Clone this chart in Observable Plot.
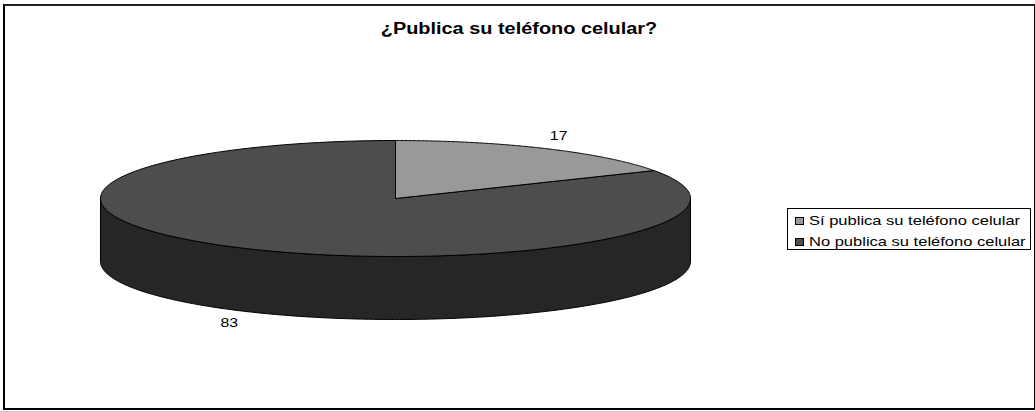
<!DOCTYPE html>
<html lang="es">
<head>
<meta charset="utf-8">
<script src="https://cdn.jsdelivr.net/npm/d3@7"></script>
<script src="https://cdn.jsdelivr.net/npm/@observablehq/plot@0.6"></script>
<style>
  html,body{margin:0;padding:0;background:#fff;overflow:hidden}
  #chart{position:relative;width:1035px;height:412px;font-family:"Liberation Sans",Arial,sans-serif;color:#000;overflow:hidden}
  #chart svg{position:absolute;left:0;top:0;display:block;background:transparent}
  #border{position:absolute;left:3px;top:4px;width:1029px;height:402px;border:2px solid #000;border-top-color:#222;border-right-width:1px}
  #strip{position:absolute;left:0;top:411px;width:1035px;height:1px;background:#c8c8c8}
  #title{position:absolute;left:519px;top:21px;white-space:nowrap;font-weight:bold;font-size:15.8px;line-height:16px;transform:translateX(-50%) scaleX(1.26)}
  #legend{position:absolute;left:787px;top:208px;width:242px;height:40px;border:1px solid #000;font-size:13px;background:#fff}
  .row{position:absolute;left:7px;height:16px;line-height:16px;white-space:nowrap}
  .sw{position:absolute;left:0;top:4px;box-sizing:border-box;width:9px;height:8px;border:1px solid #000}
  .tx{position:absolute;left:14px;top:0;transform:scaleX(1.27);transform-origin:left center}
</style>
</head>
<body>
<div id="chart">
  <div id="border"></div>
  <div id="strip"></div>
  <div id="title"></div>
  <div id="legend"></div>
</div>
<script>
const titleText = "¿Publica su teléfono celular?";
const categories = ["Sí publica su teléfono celular", "No publica su teléfono celular"];
const values = [17, 83];
const colors = ["#999999", "#4d4d4d"];
const wallColor = "#262626";

const cx = 395, cy = 198, rx = 295, ry = 58, depth = 63;
const wall = depth / ry;

const pie = d3.pie().sort(null).value(d => d)(values);
const rim = a => ({x: Math.sin(a), y: Math.cos(a)});
const arc = (a0, a1) => d3.range(0, 241).map(i => rim(a0 + (a1 - a0) * i / 240));

const slices = pie.map((s, i) => {
  const pts = arc(s.startAngle, s.endAngle);
  return {color: colors[i], pts: [{x: 0, y: 0}, ...pts, {x: 0, y: 0}]};
});

const front = arc(Math.PI / 2, Math.PI * 1.5);
const wallPts = [...front, ...front.slice().reverse().map(p => ({x: p.x, y: p.y - wall}))];
wallPts.push(wallPts[0]);

const labelOffsets = [[13, -12.5], [-16, 75]];
const labels = pie.map((s, i) => {
  const p = rim((s.startAngle + s.endAngle) / 2);
  return {...p, text: String(values[i]), dx: labelOffsets[i][0], dy: labelOffsets[i][1]};
});

const plot = Plot.plot({
  width: 1035, height: 412,
  margin: 0,
  x: {type: "linear", domain: [-1, 1], range: [cx - rx, cx + rx], axis: null},
  y: {type: "linear", domain: [1, -1], range: [cy - ry, cy + ry], axis: null},
  marks: [
    Plot.line(wallPts, {x: "x", y: "y", fill: wallColor, stroke: "#000", strokeWidth: 1, curve: "linear"}),
    ...slices.slice().reverse().map(s =>
      Plot.line(s.pts, {x: "x", y: "y", fill: s.color, stroke: "#000", strokeWidth: 1, curve: "linear"})),
    ...labels.map(l =>
      Plot.text([l], {x: "x", y: "y", text: "text", dx: l.dx, dy: l.dy, fontSize: 12.5,
        fontFamily: "Liberation Sans, Arial, sans-serif", fill: "#000"}))
  ]
});
d3.select(plot).selectAll("text").each(function () {
  const t = this.getAttribute("transform") || "";
  this.setAttribute("transform", t + " scale(1.27,1)");
});
document.getElementById("chart").appendChild(plot);
document.getElementById("title").textContent = titleText;

const legend = document.getElementById("legend");
categories.forEach((c, i) => {
  const row = document.createElement("div");
  row.className = "row";
  row.style.top = (4 + i * 20.5) + "px";
  const sw = document.createElement("span");
  sw.className = "sw";
  sw.style.background = colors[i];
  row.appendChild(sw);
  const tx = document.createElement("span");
  tx.className = "tx";
  tx.textContent = c;
  row.appendChild(tx);
  legend.appendChild(row);
});
</script>
</body>
</html>
